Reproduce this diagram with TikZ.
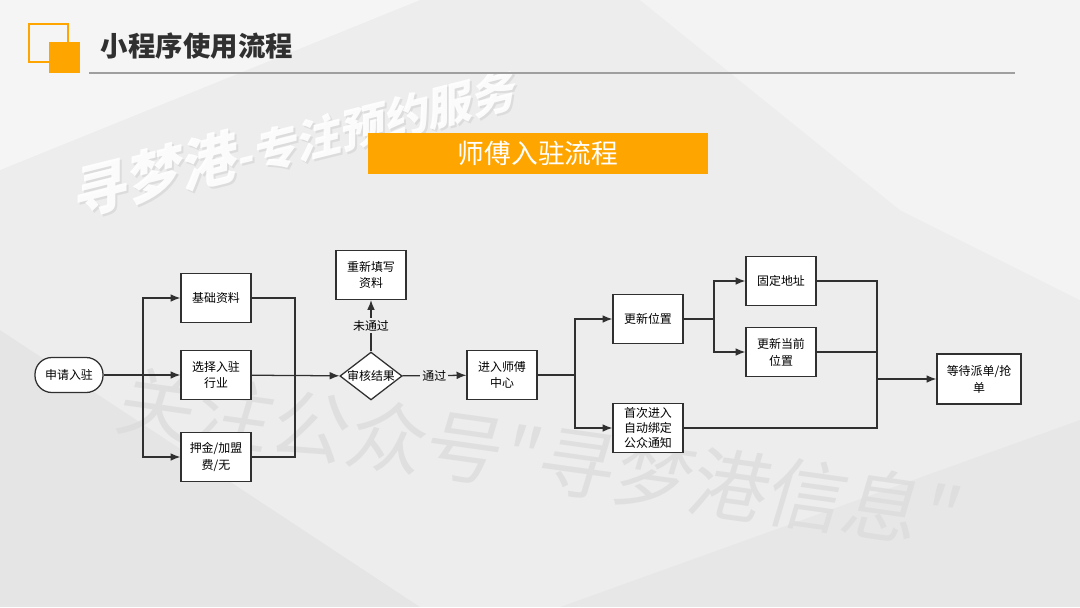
\documentclass[tikz,border=0pt]{standalone}
\usepackage{fontspec}
\setmainfont{Noto Sans CJK SC}
\newfontfamily\wmfont{Noto Sans CJK SC}
\usetikzlibrary{shapes.geometric,arrows.meta}
\definecolor{bgrey}{HTML}{EDEDED}
\definecolor{orng}{HTML}{FFA500}
\definecolor{ink}{HTML}{303030}

\begin{document}
\begin{tikzpicture}[x=0.025cm,y=-0.025cm,
  box/.style={draw=ink, fill=white, line width=0.9pt, minimum width=1.75cm, minimum height=1.22cm,
    align=center, inner sep=2pt, font=\fontsize{8.5}{12}\selectfont},
  flow/.style={draw=ink, line width=0.9pt, -{Latex[length=7pt,width=5.5pt]}},
  link/.style={draw=ink, line width=0.9pt},
  tag/.style={fill=bgrey, inner sep=1.5pt, font=\fontsize{8.5}{10}\selectfont}]

% background
\fill[bgrey] (0,0) rectangle (1080,607);
\useasboundingbox (0,0) rectangle (1080,607);
\fill[white,opacity=0.45] (0,0) -- (420,0) -- (0,170) -- cycle;
\fill[white,opacity=0.35] (640,0) -- (1080,0) -- (1080,300) -- (900,210) -- cycle;
\fill[black,opacity=0.03] (0,330) -- (420,607) -- (0,607) -- cycle;
\fill[black,opacity=0.025] (560,607) -- (1080,420) -- (1080,607) -- cycle;

% watermarks
\node[rotate=14, xslant=0.25, text=gray, opacity=0.15, font=\bfseries] (wmshadow) at (298,141)
  {\fontsize{40}{40}\selectfont 寻梦港\fontsize{32}{32}\selectfont -专注预约服务};
\node[rotate=14, xslant=0.25, text=white, opacity=0.9, font=\bfseries] (wmtop) at (296,139)
  {\fontsize{40}{40}\selectfont 寻梦港\fontsize{32}{32}\selectfont -专注预约服务};
\node[rotate=-8, xslant=0.15, text=gray!28, opacity=0.75, font=\wmfont\fontsize{55}{55}\selectfont] (wmbig) at (540,458)
  {关注公众号"寻梦港信息"};

% header
\draw[orng, line width=1pt] (29,24) rectangle (68,62);
\fill[orng] (49,42) rectangle (80,73);
\node[anchor=west, text=ink, font=\bfseries\fontsize{19.5}{20}\selectfont] (title) at (96,46) {小程序使用流程};
\draw[gray!75, line width=0.8pt] (89,73) -- (1015,73);
\node[fill=orng, text=white, minimum width=8.5cm, minimum height=1.03cm,
  font=\fontsize{19}{20}\selectfont] (banner) at (538,153.5) {师傅入驻流程};

% flow nodes
\node[box, rounded corners=12pt, minimum width=1.7cm, minimum height=0.875cm] (apply) at (69,375) {申请入驻};
\node[box] (basic) at (216,298) {基础资料};
\node[box] (trade) at (216,375) {选择入驻\\行业};
\node[box] (fee) at (216,457) {押金/加盟\\费/无};
\node[diamond, draw=ink, fill=white, line width=0.9pt, aspect=1.3, inner sep=0pt,
  minimum width=1.55cm, font=\fontsize{8.5}{10}\selectfont] (check) at (371,376) {审核结果};
\node[box] (redo) at (371,275) {重新填写\\资料};
\node[box] (center) at (502,375) {进入师傅\\中心};
\node[box] (loc) at (648,319) {更新位置};
\node[box, inner sep=1pt, font=\fontsize{8.5}{10.5}\selectfont] (notify) at (648,428) {首次进入\\自动绑定\\公众通知};
\node[box] (fixed) at (781,281) {固定地址};
\node[box] (current) at (781,352) {更新当前\\位置};
\node[box, minimum width=2.1cm, minimum height=1.25cm] (wait) at (979,379) {等待派单/抢\\单};

% connectors
\coordinate (split1) at (143,375);
\coordinate (join1) at (295,375);
\coordinate (split2) at (575,375);
\coordinate (split3) at (714,319);
\coordinate (join2) at (877,379);
\draw[link] (apply) -- (split1);
\draw[flow] (split1) |- (basic);
\draw[flow] (split1) -- (trade);
\draw[flow] (split1) |- (fee);
\draw[link] (basic) -| (join1);
\draw[link] (fee) -| (join1);
\draw[flow] (trade) -- (check);
\draw[flow] (check) -- node[tag] {未通过} (redo);
\draw[flow] (check) -- node[tag] {通过} (center);
\draw[link] (center) -- (split2);
\draw[flow] (split2) |- (loc);
\draw[flow] (split2) |- (notify);
\draw[link] (loc) -- (split3);
\draw[flow] (split3) |- (fixed);
\draw[flow] (split3) |- (current);
\draw[link] (fixed) -| (join2);
\draw[link] (current) -| (join2);
\draw[link] (notify) -| (join2);
\draw[flow] (join2) -- (wait);
\end{tikzpicture}
\end{document}
